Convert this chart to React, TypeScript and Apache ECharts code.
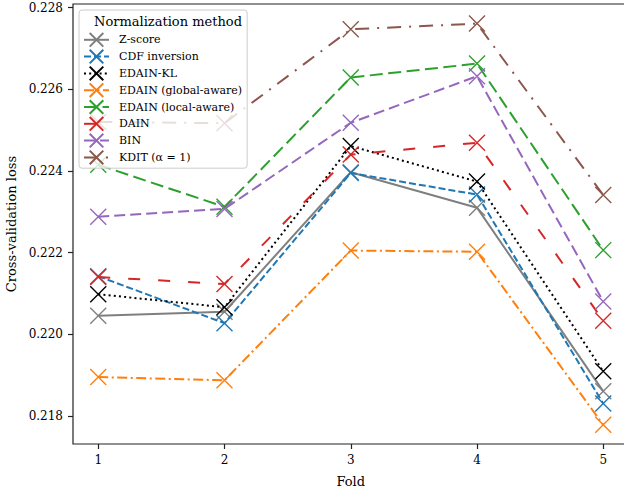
import React, { useEffect, useRef } from "react";
import * as echarts from "echarts";

const folds = [1, 2, 3, 4, 5];
const seriesNames = [
  "Z-score",
  "CDF inversion",
  "EDAIN-KL",
  "EDAIN (global-aware)",
  "EDAIN (local-aware)",
  "DAIN",
  "BIN",
  "KDIT (α = 1)",
];
const zscore = [0.22045, 0.22055, 0.22397, 0.2231, 0.2186];
const cdfInversion = [0.22142, 0.22027, 0.22395, 0.22342, 0.2183];
const edainKL = [0.22098, 0.22066, 0.22461, 0.22374, 0.21909];
const edainGlobal = [0.21895, 0.21887, 0.22205, 0.22202, 0.21778];
const edainLocal = [0.22415, 0.22312, 0.22629, 0.22663, 0.22206];
const dain = [0.2214, 0.22123, 0.2244, 0.22469, 0.22033];
const bin = [0.22288, 0.22307, 0.22518, 0.22632, 0.2208];
const kdit = [0.2252, 0.22517, 0.22747, 0.22761, 0.22341];
const yTicks = [0.218, 0.22, 0.222, 0.224, 0.226, 0.228];
const xTicks = [1, 2, 3, 4, 5];

const allValues = [zscore, cdfInversion, edainKL, edainGlobal, edainLocal, dain, bin, kdit];
const colors = ["#7f7f7f", "#1f77b4", "#000000", "#ff7f0e", "#2ca02c", "#d62728", "#9467bd", "#8c564b"];
const dashes: any[] = ["solid", [7, 3], [2, 3.2], [10, 3.5, 2, 3.5], [13, 5.5], [12, 18], [11, 5], [14, 8, 2, 8]];

const FONT = "DejaVu Serif";
const X_SYMBOL = "path://M0,0L10,10M0,10L10,0";

export default function App() {
  const ref = useRef<HTMLDivElement>(null);
  useEffect(() => {
    if (!ref.current) return;
    const chart = echarts.init(ref.current, undefined, { renderer: "svg" });
    const series = seriesNames.map((name, i) => ({
      name,
      type: "line",
      data: folds.map((f, j) => [f, allValues[i][j]]),
      symbol: X_SYMBOL,
      symbolSize: 16,
      showSymbol: true,
      z: 2 + i,
      lineStyle: { color: colors[i], width: 2, type: dashes[i], cap: "butt" },
      itemStyle: { color: colors[i], borderColor: colors[i], borderWidth: 1.4 },
      emphasis: { disabled: true },
    }));
    chart.setOption({
      animation: false,
      grid: {
        left: 73,
        top: 4,
        width: 555.5,
        height: 440,
        outerBoundsMode: "none",
        containLabel: false,
        show: true,
        borderColor: "#222",
        borderWidth: 1.2,
        backgroundColor: "transparent",
      },
      xAxis: {
        type: "value",
        min: 0.8,
        max: 5.2,
        name: "Fold",
        nameLocation: "middle",
        nameGap: 31,
        nameTextStyle: { fontFamily: FONT, fontSize: 13, color: "#000" },
        splitLine: { show: false },
        axisLine: { show: false },
        axisTick: { show: true, length: 5, customValues: xTicks, lineStyle: { color: "#222", width: 1.2 } },
        axisLabel: { customValues: xTicks, fontFamily: FONT, fontSize: 12, color: "#000", margin: 10 },
      },
      yAxis: {
        type: "value",
        min: 0.21731,
        max: 0.22809,
        name: "Cross-validation loss",
        nameLocation: "middle",
        nameGap: 53,
        nameTextStyle: { fontFamily: FONT, fontSize: 13, color: "#000" },
        splitLine: { show: false },
        axisLine: { show: false },
        axisTick: { show: true, length: 5, customValues: yTicks, lineStyle: { color: "#222", width: 1.2 } },
        axisLabel: {
          customValues: yTicks,
          fontFamily: FONT,
          fontSize: 12,
          color: "#000",
          margin: 10,
          formatter: (v: number) => v.toFixed(3),
        },
      },
      legend: {
        orient: "vertical",
        left: 79,
        top: 10,
        z: 20,
        padding: [22, 5, 3, 4],
        itemWidth: 25,
        itemHeight: 17,
        itemGap: 1.2,
        backgroundColor: "rgba(255,255,255,0.8)",
        borderColor: "#cccccc",
        borderWidth: 1,
        borderRadius: 3,
        data: seriesNames,
        textStyle: { fontFamily: FONT, fontSize: 11, color: "#000", padding: [0, 0, 0, 5] },
      },
      graphic: {
        z: 100,
        elements: [
          {
            type: "text",
            x: 168,
            y: 21,
            z: 100,
            style: {
              text: "Normalization method",
              font: `13px "${FONT}"`,
              fill: "#000",
              textAlign: "center",
              textVerticalAlign: "middle",
            },
          },
        ],
      },
      series,
    });
    return () => chart.dispose();
  }, []);
  return (
    <div
      ref={ref}
      style={{ position: "absolute", left: 0, top: 0, width: 624, height: 488 }}
    />
  );
}
